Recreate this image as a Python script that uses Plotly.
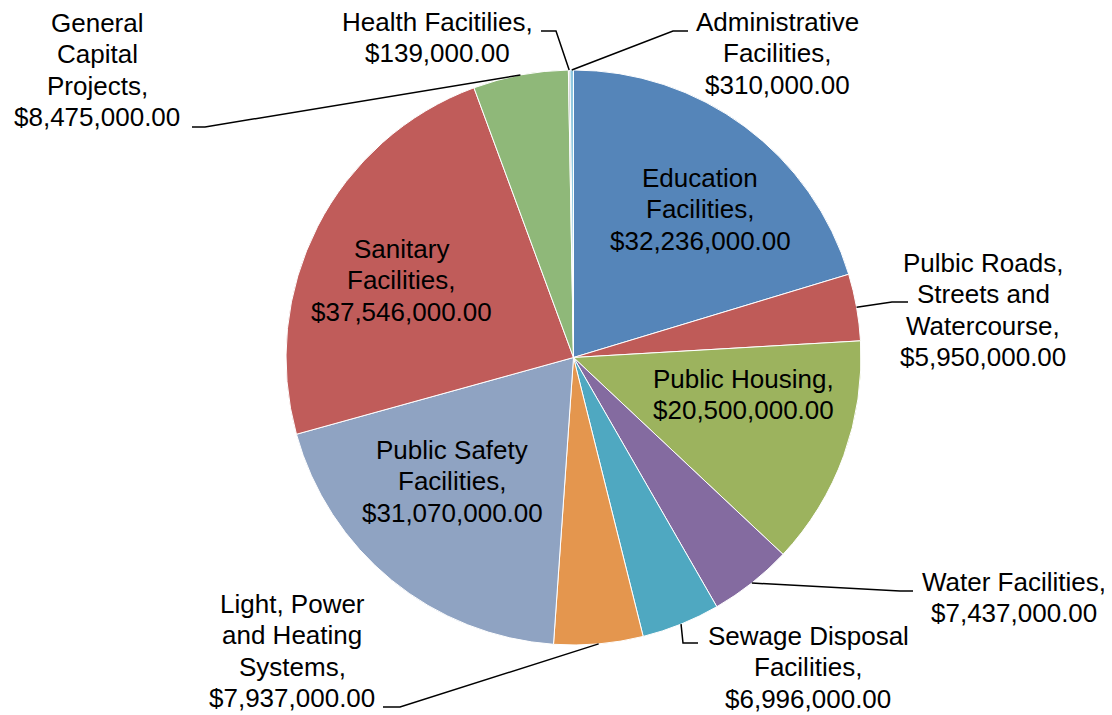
import math

import plotly.graph_objects as go

W, H = 1112, 715
OFF = 8  # page body margin in the browser

# slices, clockwise from 12 o'clock
categories = [
    "Education Facilities",
    "Pulbic Roads, Streets and Watercourse",
    "Public Housing",
    "Water Facilities",
    "Sewage Disposal Facilities",
    "Light, Power and Heating Systems",
    "Public Safety Facilities",
    "Sanitary Facilities",
    "General Capital Projects",
    "Health Facitilies",
    "Administrative Facilities",
]
values = [32236000, 5950000, 20500000, 7437000, 6996000, 7937000,
          31070000, 37546000, 8475000, 139000, 310000]
# how each label name wraps
label_lines = [
    ["Education", "Facilities,"],
    ["Pulbic Roads,", "Streets and", "Watercourse,"],
    ["Public Housing,"],
    ["Water Facilities,"],
    ["Sewage Disposal", "Facilities,"],
    ["Light, Power", "and Heating", "Systems,"],
    ["Public Safety", "Facilities,"],
    ["Sanitary", "Facilities,"],
    ["General", "Capital", "Projects,"],
    ["Health Facitilies,"],
    ["Administrative", "Facilities,"],
]
colors = ["#5585B9", "#BF5B58", "#9CB35E", "#846BA0", "#4FA8C1", "#E4964E",
          "#8FA3C2", "#C05C5A", "#8FB879", "#A5A5A5", "#8FC8E0"]

# label layout in screen pixels: (center x, first line y, elbow, end)
label_layout = [
    (700, 178, None, None),
    (983, 263, (892, 302), (908, 302)),
    (743, 379, None, None),
    (1014, 582, (900, 591), (913, 591)),
    (808, 636, (683, 643), (698, 643)),
    (292, 604, (400, 707), (383, 707)),
    (452, 450, None, None),
    (401, 249, None, None),
    (97, 23, (205, 127), (192, 127)),
    (437, 22, (556, 31), (541, 31)),
    (777, 22, (673, 31), (688, 31)),
]
LINE_GAP = 31.3

# pie placement (screen pixels)
CX, CY, R = 573.5, 357.5, 287.5


def px(x):
    return (x - OFF) / (W - OFF)


def py(y):
    return 1 - (y - OFF) / (H - OFF)


fig = go.Figure(
    go.Pie(
        labels=categories,
        values=values,
        sort=False,
        direction="clockwise",
        rotation=0,
        textinfo="none",
        hoverinfo="label+value",
        marker=dict(colors=colors, line=dict(color="white", width=1)),
        domain=dict(x=[px(CX - R), px(CX + R)], y=[py(CY + R), py(CY - R)]),
    )
)

total = sum(values)
annotations = []
shapes = []
cum = 0.0
for lines, v, (lx, ly, elbow, end) in zip(label_lines, values, label_layout):
    mid = (cum + v / 2) / total * 2 * math.pi
    cum += v
    for i, txt in enumerate(lines + [f"${v:,.2f}"]):
        annotations.append(dict(
            x=px(lx), y=py(ly + i * LINE_GAP), xref="paper", yref="paper",
            text=txt, showarrow=False,
            xanchor="center", yanchor="middle", align="center",
            font=dict(family="Liberation Sans, Arial", size=26, color="black"),
        ))
    if elbow is not None:
        rx = CX + R * math.sin(mid)
        ry = CY - R * math.cos(mid)
        path = (f"M {px(rx)} {py(ry)} L {px(elbow[0])} {py(elbow[1])} "
                f"L {px(end[0])} {py(end[1])}")
        shapes.append(dict(type="path", path=path, xref="paper", yref="paper",
                           line=dict(color="black", width=1.5)))

fig.update_layout(
    width=W - OFF, height=H - OFF,
    margin=dict(l=0, r=0, t=0, b=0),
    paper_bgcolor="white",
    showlegend=False,
    annotations=annotations,
    shapes=shapes,
)

fig.write_html("out.html")
